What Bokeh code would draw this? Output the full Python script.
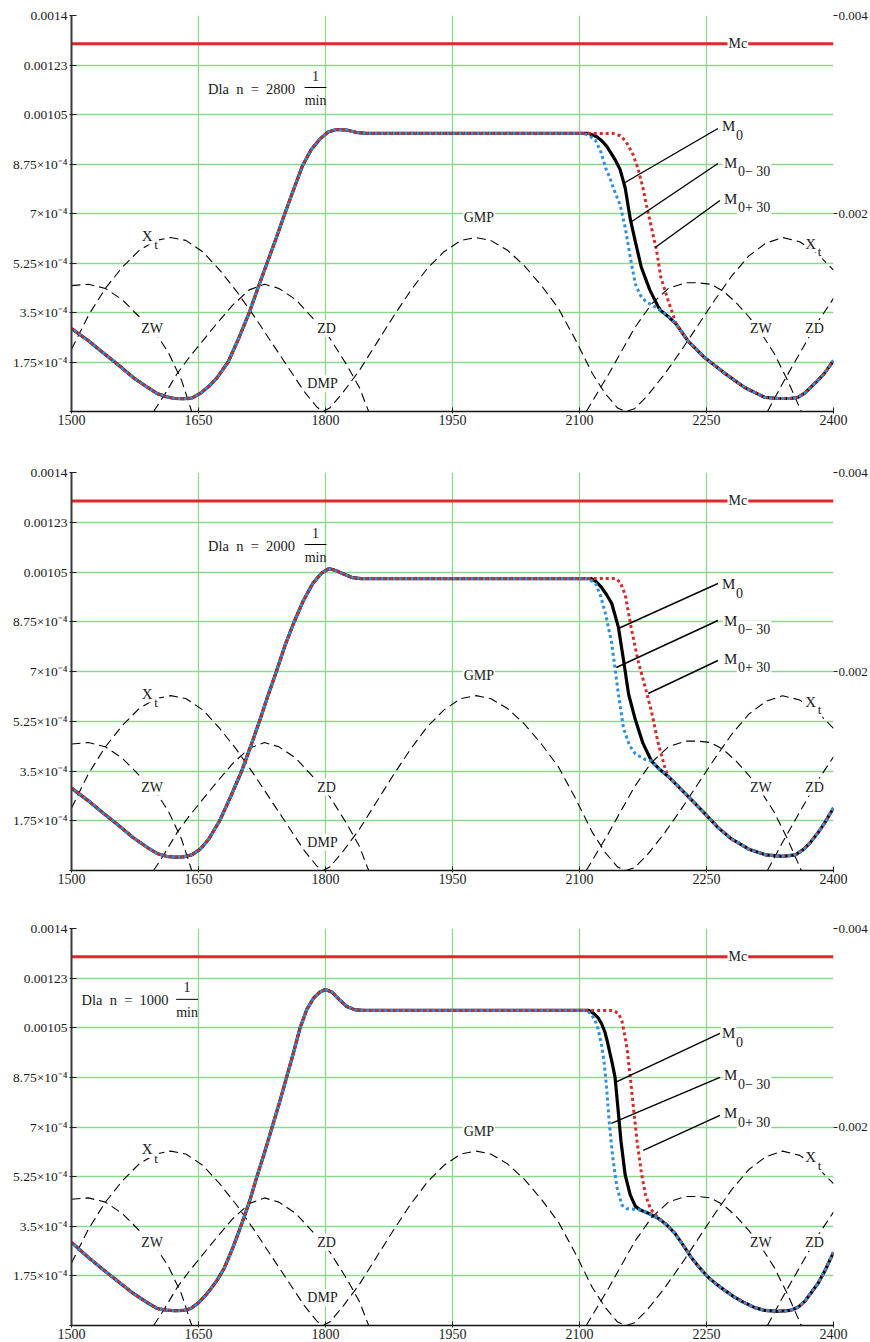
import numpy as np
from bokeh.plotting import figure
from bokeh.layouts import column
from bokeh.models import Range1d, LinearAxis, FixedTicker, Label
from bokeh.embed import file_html
from bokeh.resources import INLINE

FONT = "Liberation Serif"
SC = 1e-4  # curve values below are given in units of 1e-4

X_TICKS = [1500, 1650, 1800, 1950, 2100, 2250, 2400]
Y_TICKS = [0.0, 1.75e-4, 3.5e-4, 5.25e-4, 7e-4, 8.75e-4, 1.05e-3, 1.225e-3, 1.4e-3]
Y_LABELS = ["", "1.75×10⁻⁴", "3.5×10⁻⁴", "5.25×10⁻⁴", "7×10⁻⁴", "8.75×10⁻⁴",
            "0.00105", "0.00123", "0.0014"]
R_TICKS = [0.002, 0.004]
MC = 0.0013
N_VALUES = ["2800", "2000", "1000"]

# ---- dashed reference curves (same in all panels) ----
XT_X = [1500, 1520, 1540, 1560, 1580, 1600, 1617, 1635, 1655, 1675, 1695, 1715, 1735, 1755,
        1775, 1790, 1797, 1805, 1820, 1840, 1860, 1880, 1900, 1920, 1940, 1960, 1978, 1995,
        2015, 2035, 2055, 2075, 2095, 2115, 2130, 2145, 2155, 2165, 2180, 2200, 2220, 2240,
        2260, 2280, 2300, 2320, 2340, 2360, 2380, 2400]
XT_Y = [2.2, 3.4, 4.35, 5.1, 5.7, 6.05, 6.15, 6.05, 5.65, 5.0, 4.25, 3.4, 2.5, 1.6,
        0.7, 0.15, 0.0, 0.12, 0.65, 1.45, 2.4, 3.35, 4.25, 5.05, 5.65, 6.05, 6.15, 6.05,
        5.7, 5.15, 4.45, 3.65, 2.55, 1.35, 0.65, 0.12, 0.0, 0.1, 0.55, 1.3, 2.15, 3.05,
        3.95, 4.8, 5.5, 5.95, 6.15, 6.0, 5.6, 5.0]

ZW1_X = [1500, 1520, 1540, 1560, 1580, 1600, 1615, 1630, 1642]
ZW1_Y = [4.45, 4.5, 4.35, 3.95, 3.35, 2.75, 2.05, 1.1, 0.0]
ZD1_X = [1597, 1610, 1625, 1640, 1655, 1670, 1690, 1710, 1728, 1745, 1765, 1785, 1805,
         1825, 1840, 1851]
ZD1_Y = [0.0, 0.6, 1.35, 1.95, 2.5, 3.05, 3.75, 4.3, 4.5, 4.35, 3.95, 3.3, 2.6,
         1.65, 0.85, 0.0]
ZW2_X = [2108, 2120, 2135, 2150, 2165, 2185, 2205, 2225, 2240, 2255, 2270, 2285, 2300,
         2315, 2330, 2345, 2362]
ZW2_Y = [0.0, 0.6, 1.35, 2.15, 2.95, 3.8, 4.35, 4.55, 4.55, 4.5, 4.25, 3.85, 3.35,
         2.75, 2.05, 1.15, 0.0]
ZD2_X = [2322, 2340, 2360, 2380, 2400]
ZD2_Y = [0.0, 1.0, 2.05, 3.1, 4.0]

# ---- panel 1 (n = 2800) ----
RISE1_X = [1500, 1520, 1534, 1555, 1573, 1590, 1601, 1612, 1622, 1632, 1642, 1652, 1662,
           1672, 1685, 1697, 1710, 1720, 1731, 1742, 1752, 1763, 1773, 1783, 1793, 1803,
           1813, 1825, 1836, 1848, 2105]
RISE1_Y = [2.93, 2.5, 2.16, 1.65, 1.2, 0.85, 0.64, 0.52, 0.46, 0.45, 0.47, 0.64, 0.88,
           1.2, 1.75, 2.55, 3.5, 4.35, 5.25, 6.15, 7.0, 7.9, 8.7, 9.25, 9.62, 9.88,
           9.97, 9.95, 9.87, 9.83, 9.83]
M0_1_X = [2111, 2120, 2126, 2132, 2138, 2143, 2148, 2154, 2160, 2166, 2173, 2183, 2193]
M0_1_Y = [9.83, 9.72, 9.58, 9.38, 9.1, 8.85, 8.55, 7.9, 6.8, 6.0, 5.1, 4.3, 3.7]
MM_1_X = [2105, 2112, 2119, 2125, 2131, 2136, 2140, 2148, 2154, 2160, 2166, 2172, 2178, 2189]
MM_1_Y = [9.83, 9.75, 9.58, 9.2, 8.6, 8.25, 7.9, 7.3, 6.5, 5.45, 4.5, 4.1, 3.9, 3.7]
MP_1_X = [2140, 2148, 2154, 2158, 2163, 2169, 2175, 2179, 2185, 2191, 2196, 2205]
MP_1_Y = [9.83, 9.75, 9.58, 9.38, 9.1, 8.6, 7.9, 7.3, 6.5, 5.7, 4.75, 3.9]
TAIL1_X = [2196, 2205, 2214, 2228, 2248, 2272, 2295, 2319, 2335, 2349, 2358, 2366, 2373,
           2381, 2389, 2400]
TAIL1_Y = [3.57, 3.35, 3.1, 2.5, 1.9, 1.34, 0.85, 0.5, 0.46, 0.46, 0.5, 0.65, 0.85,
           1.08, 1.34, 1.8]

# ---- panel 2 (n = 2000) ----
RISE2_X = [1500, 1520, 1534, 1555, 1573, 1590, 1601, 1612, 1622, 1632, 1642, 1652, 1662,
           1675, 1688, 1701, 1712, 1722, 1732, 1742, 1752, 1763, 1774, 1785, 1795, 1804,
           1812, 1820, 1832, 1842, 2110]
RISE2_Y = [2.9, 2.45, 2.1, 1.6, 1.15, 0.8, 0.6, 0.5, 0.47, 0.48, 0.55, 0.75, 1.1,
           1.75, 2.6, 3.5, 4.4, 5.25, 6.15, 7.0, 7.9, 8.75, 9.5, 10.1, 10.45, 10.62,
           10.55, 10.45, 10.3, 10.27, 10.27]
M0_2_X = [2114, 2120, 2126, 2132, 2138, 2146, 2152, 2158, 2166, 2175]
M0_2_Y = [10.27, 10.15, 9.96, 9.7, 9.4, 8.55, 7.4, 6.2, 5.3, 4.47]
MM_2_X = [2110, 2119, 2125, 2131, 2138, 2142, 2146, 2152, 2159, 2166, 2178]
MM_2_Y = [10.27, 10.1, 9.65, 9.0, 8.0, 7.1, 6.2, 5.0, 4.4, 4.1, 3.9]
MP_2_X = [2142, 2148, 2154, 2161, 2169, 2178, 2185, 2193, 2201]
MP_2_Y = [10.27, 10.15, 9.7, 8.55, 7.4, 6.4, 5.6, 4.47, 3.6]
TAIL2_X = [2185, 2195, 2205, 2215, 2225, 2245, 2264, 2280, 2300, 2320, 2340, 2355, 2365,
           2373, 2381, 2389, 2400]
TAIL2_Y = [3.85, 3.55, 3.3, 3.0, 2.7, 2.1, 1.5, 1.1, 0.75, 0.55, 0.5, 0.55, 0.75,
           1.0, 1.3, 1.65, 2.2]

# ---- panel 3 (n = 1000) ----
RISE3_X = [1500, 1520, 1534, 1555, 1573, 1590, 1601, 1612, 1622, 1632, 1641, 1650, 1658,
           1666, 1672, 1680, 1690, 1700, 1710, 1719, 1728, 1737, 1746, 1754, 1762, 1770,
           1778, 1786, 1793, 1800, 1808, 1816, 1825, 1835, 1845, 2108]
RISE3_Y = [2.93, 2.4, 2.05, 1.55, 1.13, 0.8, 0.6, 0.54, 0.52, 0.53, 0.6, 0.8, 1.05,
           1.35, 1.6, 2.0, 2.7, 3.5, 4.35, 5.25, 6.1, 7.0, 7.9, 8.75, 9.6, 10.5,
           11.15, 11.55, 11.75, 11.85, 11.75, 11.5, 11.25, 11.13, 11.11, 11.11]
M0_3_X = [2111, 2117, 2122, 2126, 2130, 2133, 2136, 2139, 2142, 2145, 2149, 2154, 2160, 2166]
M0_3_Y = [11.11, 11.0, 10.85, 10.65, 10.35, 10.0, 9.6, 9.2, 8.75, 7.8, 6.5, 5.3, 4.6, 4.2]
MM_3_X = [2108, 2113, 2118, 2122, 2126, 2129, 2132, 2135, 2139, 2144, 2150, 2156, 2164]
MM_3_Y = [11.11, 11.0, 10.8, 10.45, 9.9, 9.3, 8.4, 7.2, 6.0, 4.9, 4.25, 4.12, 4.1]
MP_3_X = [2140, 2146, 2150, 2153, 2156, 2160, 2164, 2168, 2173, 2178, 2184, 2190]
MP_3_Y = [11.11, 11.0, 10.75, 10.3, 9.8, 8.75, 7.6, 6.5, 5.4, 4.6, 4.1, 3.9]
TAIL3_X = [2172, 2182, 2193, 2203, 2213, 2222, 2232, 2242, 2252, 2262, 2272, 2283, 2295,
           2307, 2319, 2334, 2349, 2358, 2366, 2373, 2382, 2390, 2400]
TAIL3_Y = [4.07, 3.95, 3.78, 3.55, 3.24, 2.85, 2.4, 2.03, 1.7, 1.45, 1.23, 1.0, 0.8,
           0.63, 0.53, 0.5, 0.53, 0.64, 0.85, 1.13, 1.5, 1.94, 2.58]

PANELS = [
    dict(rise=(RISE1_X, RISE1_Y), m0=(M0_1_X, M0_1_Y), mm=(MM_1_X, MM_1_Y),
         mp=(MP_1_X, MP_1_Y), tail=(TAIL1_X, TAIL1_Y)),
    dict(rise=(RISE2_X, RISE2_Y), m0=(M0_2_X, M0_2_Y), mm=(MM_2_X, MM_2_Y),
         mp=(MP_2_X, MP_2_Y), tail=(TAIL2_X, TAIL2_Y)),
    dict(rise=(RISE3_X, RISE3_Y), m0=(M0_3_X, M0_3_Y), mm=(MM_3_X, MM_3_Y),
         mp=(MP_3_X, MP_3_Y), tail=(TAIL3_X, TAIL3_Y)),
]

# ---- layout helpers (reference pixel geometry -> data coordinates) ----
BOTTOM_PX = [411, 870, 1325]
STEP_PX = [49.5, 49.75, 49.6]


def dx(px):
    return 1500 + (px - 71) * 150 / 127.5


def dy(py, i):
    return (BOTTOM_PX[i] - py) * 1.75e-4 / STEP_PX[i]


LEADERS = [
    [((720, 128), (625, 183)), ((720, 163), (632, 222)), ((722, 200), (657, 247))],
    [((720, 583), (620, 628)), ((720, 620), (618, 667)), ((720, 660), (650, 693))],
    [((722, 1033), (617, 1082)), ((722, 1077), (613, 1123)), ((722, 1115), (645, 1150))],
]
MLABEL_POS = [
    [(723, 125), (725, 162), (725, 198)],
    [(723, 583), (725, 620), (725, 658)],
    [(723, 1033), (725, 1075), (725, 1113)],
]
MSUBS = ["0", "0\u2212 30", "0+ 30"]
# (text-left px, text y px, fraction-centre px, half-width px)
DLA_POS = [(207, 88, 316, 11), (207, 545, 316, 11), (80, 1000, 187, 11)]

HEIGHTS = [457, 456, 429]
TOPS = [15, 15, 15]
BOTTOMS = [46, 43, 17]


def compose(rise, fall, tail):
    rx, ry = rise
    fx, fy = fall
    tx, ty = tail
    xs = [x for x in rx if x < fx[0]] + list(fx) + [x for x in tx if x > fx[-1]]
    ys = ([y for x, y in zip(rx, ry) if x < fx[0]] + list(fy)
          + [y for x, y in zip(tx, ty) if x > fx[-1]])
    return xs, np.array(ys) * SC


def add_label(p, x, y, text, size=14, align="left", bg=True):
    p.add_layout(Label(x=x, y=y, text=text, text_font=FONT,
                       text_font_size=f"{size}px", text_align=align,
                       text_baseline="middle", text_color="#1a1a1a",
                       background_fill_color="white" if bg else None,
                       padding=1))


def make_panel(i):
    d = PANELS[i]
    p = figure(width=870, height=HEIGHTS[i], x_range=Range1d(1500, 2400),
               y_range=Range1d(0, 0.0014), output_backend="svg", toolbar_location=None,
               min_border_left=71, min_border_right=34, min_border_top=TOPS[i],
               min_border_bottom=BOTTOMS[i])
    p.outline_line_color = None
    p.background_fill_color = "white"
    p.border_fill_color = "white"
    p.extra_y_ranges = {"r": Range1d(0, 0.004)}

    xt = FixedTicker(ticks=X_TICKS)
    yt = FixedTicker(ticks=Y_TICKS)
    p.xaxis.ticker = xt
    p.yaxis.ticker = yt
    p.xgrid.ticker = xt
    p.ygrid.ticker = yt
    p.yaxis.major_label_overrides = dict(zip(Y_TICKS, Y_LABELS))
    for g in (p.xgrid, p.ygrid):
        g.grid_line_color = "#8fd68f"
        g.grid_line_width = 1.3
        g.grid_line_alpha = 1.0

    for ax in (p.xaxis, p.yaxis):
        ax.major_label_text_font = FONT
        ax.major_label_text_font_size = "14px"
        ax.major_label_text_color = "#1a1a1a"
        ax.minor_tick_line_color = None
        ax.major_tick_line_color = "#222222"
        ax.major_label_standoff = 2
    p.yaxis.major_label_text_font_size = "13.5px"
    p.xaxis.axis_line_color = "#111111"
    p.xaxis.axis_line_width = 1.5
    p.xaxis.major_tick_in = 4
    p.xaxis.major_tick_out = 2
    p.xaxis.major_label_standoff = 1
    p.yaxis.axis_line_color = "#3a3a3a"
    p.yaxis.axis_line_width = 2
    p.yaxis.major_tick_in = 5
    p.yaxis.major_tick_out = 2

    ra = LinearAxis(y_range_name="r", ticker=FixedTicker(ticks=R_TICKS))
    ra.axis_line_color = None
    ra.major_tick_in = 0
    ra.major_tick_out = 4
    ra.major_tick_line_color = "#222222"
    ra.minor_tick_line_color = None
    ra.major_label_text_font = FONT
    ra.major_label_text_font_size = "13px"
    ra.major_label_text_color = "#1a1a1a"
    ra.major_label_standoff = 1
    p.add_layout(ra, "right")

    # dashed piston / valve curves
    dash = dict(line_color="black", line_width=1.1, line_dash="9 5")
    p.line(XT_X, np.array(XT_Y) * SC, **dash)
    for ax_, ay_ in ((ZW1_X, ZW1_Y), (ZD1_X, ZD1_Y), (ZW2_X, ZW2_Y), (ZD2_X, ZD2_Y)):
        p.line(ax_, np.array(ay_) * SC, **dash)

    # Mc line
    p.line([X_TICKS[0], X_TICKS[-1]], [MC, MC], line_color="#e2262a", line_width=3)

    # M curves
    x0, y0 = compose(d["rise"], d["m0"], d["tail"])
    xm, ym = compose(d["rise"], d["mm"], d["tail"])
    xp, yp = compose(d["rise"], d["mp"], d["tail"])
    p.line(x0, y0, line_color="black", line_width=3.2)
    p.line(xp, yp, line_color="#d42a2a", line_width=3, line_dash="3 3")
    p.line(xm, ym, line_color="#2f8fdc", line_width=3, line_dash="3 3",
           line_dash_offset=3)

    # leader lines
    lx0, ly0, lx1, ly1 = [], [], [], []
    for (a, b) in LEADERS[i]:
        lx0.append(dx(a[0])); ly0.append(dy(a[1], i))
        lx1.append(dx(b[0])); ly1.append(dy(b[1], i))
    p.segment(lx0, ly0, lx1, ly1, line_color="black", line_width=1.4)

    # M labels
    for (mx, my), sub in zip(MLABEL_POS[i], MSUBS):
        add_label(p, dx(mx), dy(my, i), "M", size=15)
        add_label(p, dx(mx + 14), dy(my + 9, i), sub, size=14)

    # dashed curve labels (panel-1 geometry, identical in every panel)
    add_label(p, dx(147), dy(235, 0), "X", size=15, align="center")
    add_label(p, dx(156), dy(244, 0), "t", size=13, align="center")
    add_label(p, dx(813), dy(243, 0), "X", size=15, align="center")
    add_label(p, dx(822), dy(251, 0), "t", size=13, align="center")
    add_label(p, dx(152), dy(328, 0), "ZW", align="center")
    add_label(p, dx(327), dy(328, 0), "ZD", align="center")
    add_label(p, dx(323), dy(383, 0), "DMP", align="center")
    add_label(p, dx(480), dy(217, 0), "GMP", align="center")
    add_label(p, dx(763), dy(328, 0), "ZW", align="center")
    add_label(p, dx(817), dy(328, 0), "ZD", align="center")
    add_label(p, dx(740), MC, "Mc", align="center")

    # "Dla n = ... 1/min"
    tx, ty, fc, hw = DLA_POS[i]
    nb = "\u00a0"
    add_label(p, dx(tx), dy(ty, i), f"Dla{nb*2}n{nb*2}={nb*2}{N_VALUES[i]}", size=14.5,
              bg=False)
    add_label(p, dx(fc), dy(ty - 13, i), "1", size=14, align="center", bg=False)
    add_label(p, dx(fc), dy(ty + 12, i), "min", size=14, align="center", bg=False)
    p.segment([dx(fc - hw)], [dy(ty - 1, i)], [dx(fc + hw)], [dy(ty - 1, i)],
              line_color="black", line_width=1)
    return p


figs = [make_panel(i) for i in range(3)]
layout = column(*figs)
open("out.html", "w").write(file_html(layout, INLINE))
